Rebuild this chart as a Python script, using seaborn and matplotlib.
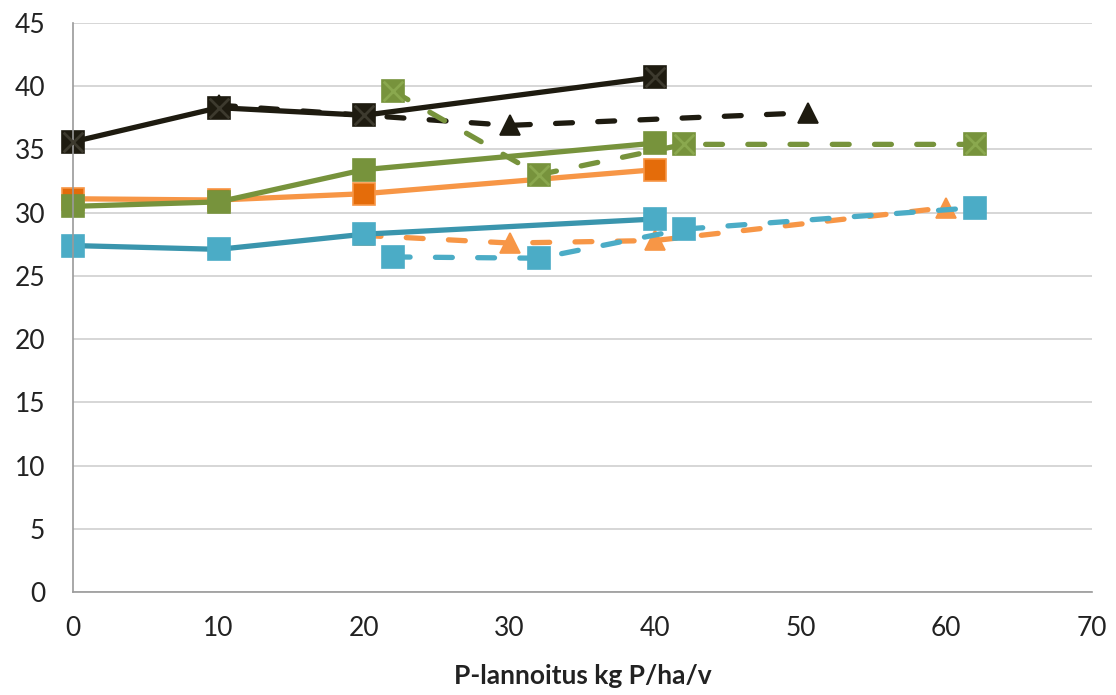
import matplotlib
matplotlib.use("Agg")
import matplotlib.pyplot as plt
import seaborn as sns
import pandas as pd

# ---- data ----
x_solid = [0, 10, 20, 40]
black_solid = [35.6, 38.3, 37.7, 40.7]
green_solid = [30.5, 30.85, 33.4, 35.5]
orange_solid = [31.1, 31.0, 31.5, 33.4]
blue_solid = [27.4, 27.1, 28.3, 29.5]

x_black_dash = [10, 20, 30, 50.5]
black_dash = [38.5, 37.7, 36.9, 37.9]
x_green_dash = [22, 32, 42, 62]
green_dash = [39.6, 33.0, 35.4, 35.4]
x_orange_dash = [20, 30, 40, 60]
orange_dash = [28.2, 27.6, 27.8, 30.4]
x_blue_dash = [22, 32, 42, 62]
blue_dash = [26.5, 26.4, 28.7, 30.4]

x_ticks = [0, 10, 20, 30, 40, 50, 60, 70]
y_ticks = [0, 5, 10, 15, 20, 25, 30, 35, 40, 45]
x_label = "P-lannoitus kg P/ha/v"

sns.set_style("white")
plt.rcParams["font.family"] = ["Lato", "DejaVu Sans"]

fig = plt.figure(figsize=(11.16, 6.95), dpi=100)
ax = fig.add_axes([0.0654, 0.148, 0.913, 0.819])

series = [
    # x, y, line color, marker face, marker edge, linestyle, marker, overlay x color
    (x_black_dash, black_dash, "#1e1b10", "#1e1b10", "#1e1b10", "--", "^", None),
    (x_orange_dash, orange_dash, "#f79646", "#f79646", "#f79646", "--", "^", None),
    (x_blue_dash, blue_dash, "#4bacc6", "#4bacc6", "#4bacc6", "--", "s", None),
    (x_solid, blue_solid, "#3a95ad", "#4bacc6", "#4bacc6", "-", "s", None),
    (x_solid, orange_solid, "#f79646", "#e46c0a", "#f79646", "-", "s", None),
    (x_solid, green_solid, "#77933c", "#77933c", "#77933c", "-", "s", None),
    (x_green_dash, green_dash, "#77933c", "#77933c", "#77933c", "--", "s", "#8aa84e"),
    (x_solid, black_solid, "#1e1b10", "#1e1b10", "#1e1b10", "-", "s", "#3d3a2e"),
]

for xs, ys, lc, mf, me, ls, mk, ov in series:
    df = pd.DataFrame({"x": xs, "y": ys})
    kw = dict(linewidth=3.8, solid_capstyle="round")
    if ls == "--":
        kw.update(dashes=(3.2, 4.8), dash_capstyle="round")
    sns.lineplot(data=df, x="x", y="y", ax=ax, color=lc, marker=mk,
                 markersize=15.5 if mk == "s" else 15, markerfacecolor=mf,
                 markeredgecolor=me, markeredgewidth=1.2, sort=False,
                 clip_on=False, **kw)
    if ov is not None:
        sns.scatterplot(data=df, x="x", y="y", ax=ax, marker="x", s=200,
                        color=ov, linewidth=2.0, zorder=5, clip_on=False)

ax.set_xlim(0, 70)
ax.set_ylim(0, 45)
ax.set_xticks(x_ticks)
ax.set_yticks(y_ticks)
ax.set_xticklabels([str(v) for v in x_ticks], fontsize=19, color="#222222")
ax.set_yticklabels([str(v) for v in y_ticks], fontsize=19, color="#222222")
ax.set_xlabel(x_label, fontsize=19, fontweight="bold", color="#222222", labelpad=17)
ax.set_ylabel("")

ax.yaxis.grid(True, color="#d0d0d0", linewidth=1.2)
ax.xaxis.grid(False)
ax.set_axisbelow(True)
for s in ["top", "right"]:
    ax.spines[s].set_visible(False)
for s in ["left", "bottom"]:
    ax.spines[s].set_color("#9a9a9a")
    ax.spines[s].set_linewidth(1.2)
ax.tick_params(axis="x", direction="out", length=8, width=1.2, color="#9a9a9a", pad=9)
ax.tick_params(axis="y", direction="out", length=8, width=1.2, color="#9a9a9a", pad=12)

fig.savefig("out.png", dpi=100)
